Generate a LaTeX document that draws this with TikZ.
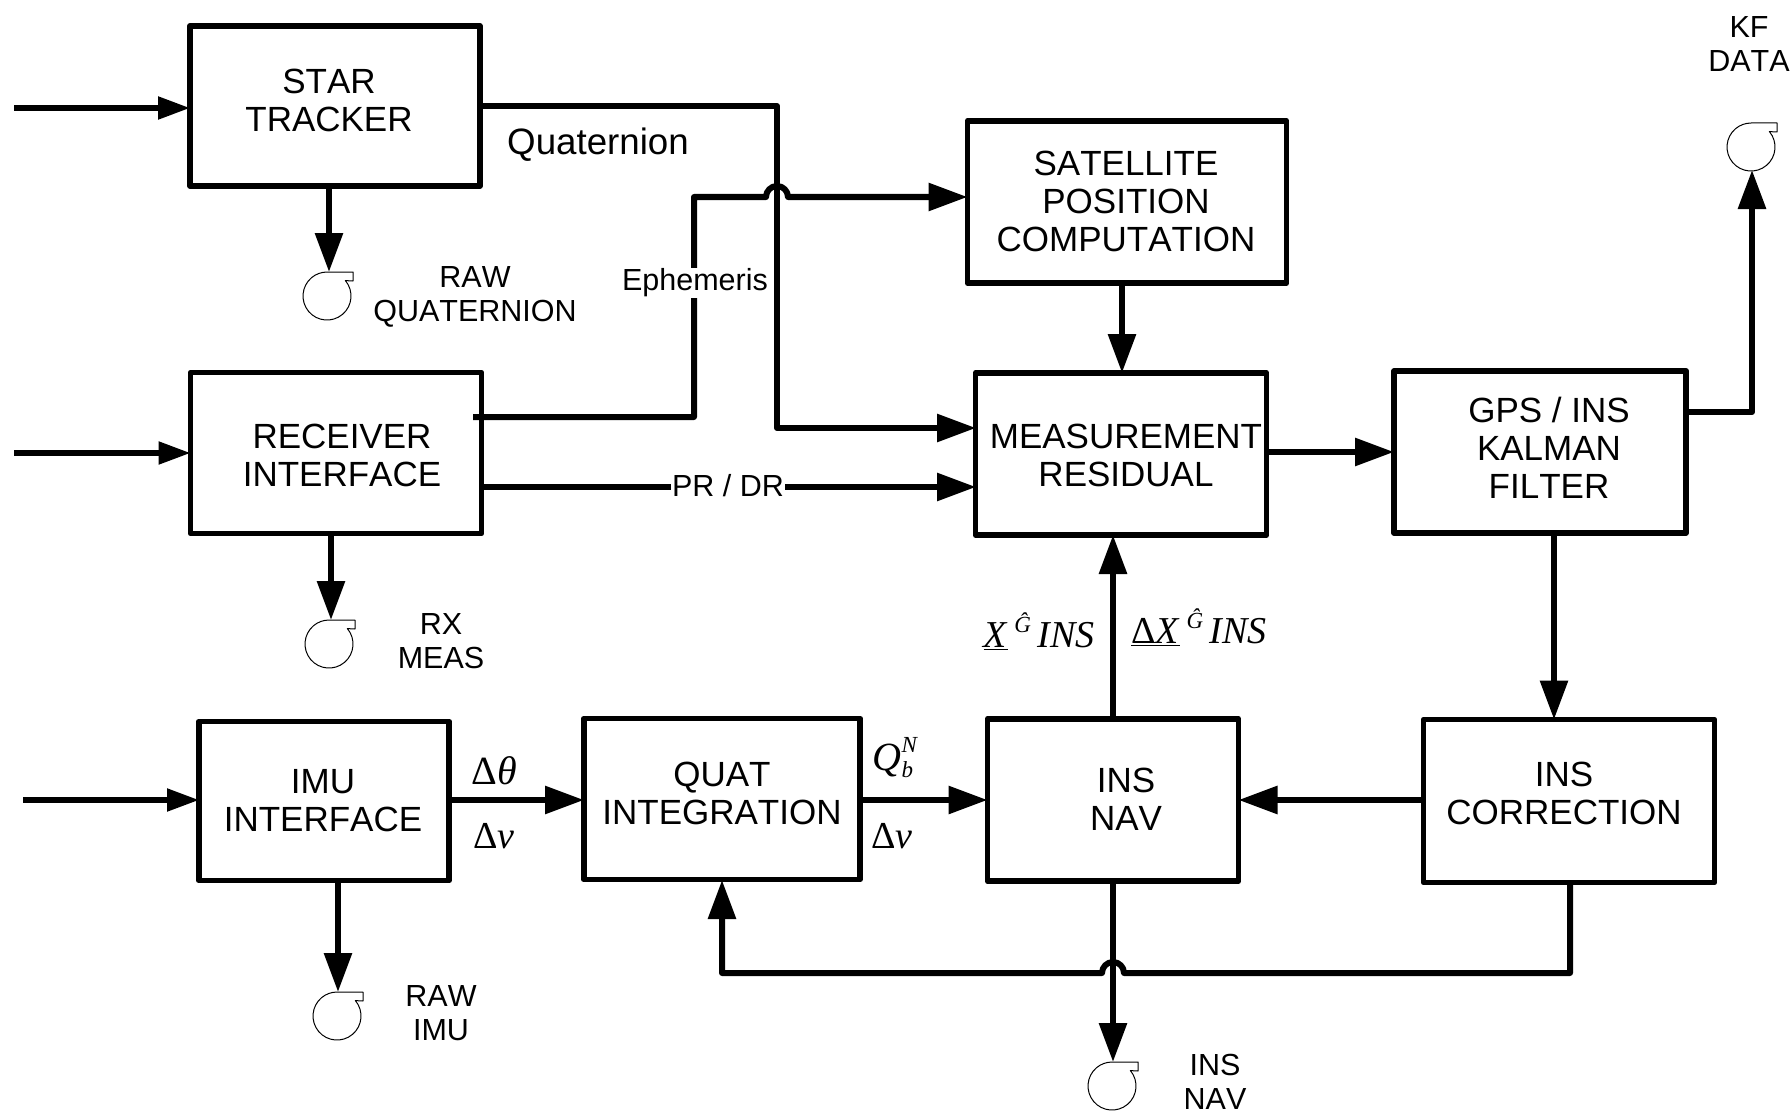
\documentclass[tikz,border=0pt]{standalone}
\usepackage{fontspec}
\usetikzlibrary{arrows.meta}
\setmainfont[Kerning=Off]{Liberation Sans}
\newfontfamily\LabelSerif{Liberation Serif}
\tikzset{
    blockbox/.style={draw=black, line width=5.8pt, line join=round, outer sep=0pt, inner sep=0pt,
        font=\fontsize{35}{38}\selectfont},
    flowline/.style={draw=black, line width=6pt, line join=round,
        -{Triangle[length=39pt, width=27pt]}},
    inputline/.style={draw=black, line width=5.2pt,
        -{Triangle[length=32pt, width=22pt]}},
    tapetext/.style={inner sep=0pt, align=center, font=\fontsize{30.5}{34}\selectfont},
    flowtext/.style={inner sep=1pt, fill=white, font=\fontsize{30.5}{34}\selectfont},
    symboltext/.style={inner sep=0pt, font=\fontsize{38}{40}\selectfont\LabelSerif},
}
% text of a block, moved from the middle of the box
\NewDocumentCommand{\BlockText}{O{0} O{0} m}{%
    \hspace*{#1pt}\raisebox{\dimexpr #2pt-10pt\relax}[0pt][0pt]{\begin{tabular}{@{}c@{}}#3\end{tabular}}\hspace*{-#1pt}%
}
\NewDocumentCommand{\TapeDrum}{O{(0,0)}}{
    \begin{scope}[shift={#1}]
    \draw[black, line width=1pt, line join=round] (0,-24) -- (26,-24) -- (26,-15) -- (18.4,-15.4)
        arc (-40:270:24);
    \end{scope}
}
\newcommand{\HatG}{\raisebox{15pt}{\fontsize{23}{23}\selectfont\textit{Ĝ}}}
\begin{document}
\begin{tikzpicture}[x=1pt, y=-1pt]
\useasboundingbox (0,0) rectangle (1792,1113);

\node[blockbox, minimum width=290pt, minimum height=160pt] (StarTracker) at (335,106) {\BlockText[-6][5]{STAR\\TRACKER}};
\node[blockbox, minimum width=291pt, minimum height=161pt] (ReceiverInterface) at (336,453) {\BlockText[6][-3]{RECEIVER\\INTERFACE}};
\node[blockbox, minimum width=250pt, minimum height=159pt] (ImuInterface) at (324,801) {\BlockText[-1]{IMU\\INTERFACE}};
\node[blockbox, minimum width=276pt, minimum height=161pt] (QuatIntegration) at (722,799) {\BlockText[0][5]{QUAT\\INTEGRATION}};
\node[blockbox, minimum width=251pt, minimum height=162pt] (InsNav) at (1113,800) {\BlockText[13]{INS\\NAV}};
\node[blockbox, minimum width=291pt, minimum height=163pt] (InsCorrection) at (1569,801) {\BlockText[-5][7]{INS\\CORRECTION}};
\node[blockbox, minimum width=292pt, minimum height=162pt] (KalmanFilter) at (1540,452) {\BlockText[9][2.5]{GPS / INS\\KALMAN\\FILTER}};
\node[blockbox, minimum width=291pt, minimum height=162pt] (MeasurementResidual) at (1121,454) {\BlockText[5][-2]{MEASUREMENT\\RESIDUAL}};
\node[blockbox, minimum width=319pt, minimum height=162pt] (SatellitePosition) at (1127,202) {\BlockText[-1]{SATELLITE\\POSITION\\COMPUTATION}};

% free ends
\coordinate (StarIn) at (14,108);
\coordinate (ReceiverIn) at (14,453);
\coordinate (ImuIn) at (23,800);
\coordinate (RawQuatTip) at (329,272);
\coordinate (RxMeasTip) at (331,620);
\coordinate (RawImuTip) at (338,992);
\coordinate (InsNavTip) at (1113,1062);
\coordinate (KfDataTip) at (1752,170);
\coordinate (QuatRail) at (777,106);
\coordinate (QuatIn) at (976,428);
\coordinate (EphemStart) at (473,417);
\coordinate (EphemRise) at (694,197);
\coordinate (EphemJump) at (766,197);
\coordinate (RangeIn) at (976,487);
\coordinate (KfOut) at (1686,412);
\coordinate (FeedbackCorner) at (1570,973);
\coordinate (FeedbackJump) at (1124,973);
\coordinate (FeedbackIn) at (722,880);
\coordinate (KalmanDown) at (1554,0);
\coordinate (SatelliteDown) at (1122,0);

\draw[inputline] (StarIn) -- (StarTracker.west |- StarIn);
\draw[inputline] (ReceiverIn) -- (ReceiverInterface.west |- ReceiverIn);
\draw[inputline] (ImuIn) -- (ImuInterface.west |- ImuIn);

\draw[flowline] (StarTracker.south -| RawQuatTip) -- (RawQuatTip);
\draw[flowline] (ReceiverInterface.south -| RxMeasTip) -- (RxMeasTip);
\draw[flowline] (ImuInterface.south -| RawImuTip) -- (RawImuTip);
\TapeDrum[(327,296)]
\TapeDrum[(329,644)]
\TapeDrum[(337,1016)]
\TapeDrum[(1112,1086)]
\TapeDrum[(1751,147)]

\draw[flowline] (StarTracker.east |- QuatRail) -- (QuatRail) |- (QuatIn);
\draw[flowline] (EphemStart) -| (EphemRise) -- (EphemJump) arc (180:360:11) -- (SatellitePosition.west |- EphemRise);
\draw[flowline] (ReceiverInterface.east |- RangeIn) -- (RangeIn);
\draw[flowline] (SatellitePosition.south -| SatelliteDown) -- (MeasurementResidual.north -| SatelliteDown);
\draw[flowline] (MeasurementResidual.east |- KalmanFilter.west) -- (KalmanFilter.west);
\draw[flowline] (KalmanFilter.south -| KalmanDown) -- (InsCorrection.north -| KalmanDown);
\draw[flowline] (InsCorrection.west |- InsNav.east) -- (InsNav.east);
\draw[flowline] (InsNav.north -| InsNavTip) -- (MeasurementResidual.south -| InsNavTip);
\draw[flowline] (InsNav.south -| InsNavTip) -- (InsNavTip);
\draw[flowline] (KfOut) -| (KfDataTip);
\draw[flowline] (ImuInterface.east |- InsNav.east) -- (QuatIntegration.west |- InsNav.east);
\draw[flowline] (QuatIntegration.east |- InsNav.east) -- (InsNav.west);
\draw[flowline] (InsCorrection.south -| FeedbackCorner) -- (FeedbackCorner) -- (FeedbackJump) arc (0:-180:11) -| (FeedbackIn);

\node[inner sep=0pt, font=\fontsize{36.7}{40}\selectfont] (QuaternionText) at (598,145) {Quaternion};
\node[flowtext] (EphemerisText) at (695,283) {Ephemeris};
\node[flowtext] (RangeText) at (728,486) {PR / DR};
\node[tapetext] (RawQuatText) at (475,297) {RAW\\QUATERNION};
\node[tapetext] (RxMeasText) at (441,641) {RX\\MEAS};
\node[tapetext] (RawImuText) at (441,1013) {RAW\\IMU};
\node[tapetext] (InsNavText) at (1215,1082) {INS\\NAV};
\node[tapetext] (KfDataText) at (1749,44) {KF\\DATA};

\node[symboltext, font=\fontsize{40}{40}\selectfont\LabelSerif] (DeltaThetaText) at (494,771) {Δ\textit{θ}};
\node[symboltext] (DeltaVelText) at (494,836) {Δ\textit{v}};
\node[symboltext] (DeltaVelOutText) at (892,836) {Δ\textit{v}};
\node[symboltext, font=\fontsize{40}{40}\selectfont\LabelSerif] (QuatBodyText) at (893,758) {\textit{Q}\rlap{\raisebox{18pt}{\fontsize{23}{23}\selectfont\textit{N}}}\raisebox{-7pt}{\fontsize{23}{23}\selectfont\textit{b}}};
\node[symboltext] (PositionText) at (1039,631) {\underline{\textit{X}}\,\HatG\,\textit{INS}};
\node[symboltext] (DeltaPosText) at (1199,627) {\underline{Δ\textit{X}}\,\HatG\,\textit{INS}};

\end{tikzpicture}
\end{document}
